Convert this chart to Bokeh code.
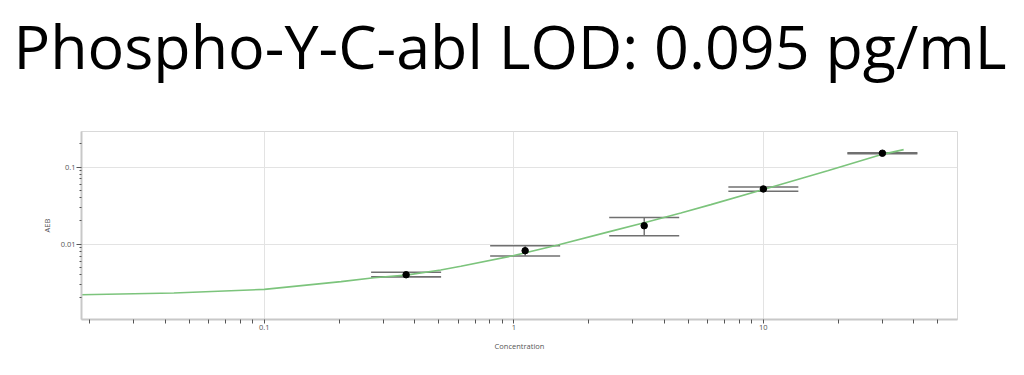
from bokeh.plotting import figure
from bokeh.models import (ColumnDataSource, Whisker, TeeHead, FixedTicker,
                          CustomJSTickFormatter)
from bokeh.embed import file_html
from bokeh.resources import INLINE

# ---- data ----
conc = [0.37, 1.11, 3.33, 10, 30]
aeb = [0.0040, 0.0082, 0.0173, 0.0519, 0.151]
aeb_hi = [0.0043, 0.0095, 0.0221, 0.0550, 0.153]
aeb_lo = [0.00375, 0.0070, 0.0128, 0.0485, 0.149]

fit_x = [0.0184, 0.0434, 0.1, 0.203, 0.275, 0.37, 0.509, 0.613, 1.0, 1.5,
         2.375, 3.33, 4.67, 6.16, 10, 18.1, 30, 36.5]
fit_y = [0.00220, 0.00232, 0.00258, 0.00326, 0.00366, 0.00395, 0.00462,
         0.00515, 0.0071, 0.00973, 0.0143, 0.0189, 0.0253, 0.0325, 0.0511,
         0.0897, 0.146, 0.168]

x_major = [0.1, 1, 10]
x_minor = [0.02, 0.03, 0.04, 0.05, 0.06, 0.07, 0.08, 0.09,
           0.2, 0.3, 0.4, 0.5, 0.6, 0.7, 0.8, 0.9,
           2, 3, 4, 5, 6, 7, 8, 9, 20, 30, 40, 50]
y_major = [0.01, 0.1]
y_minor = [0.002, 0.003, 0.004, 0.005, 0.006, 0.007, 0.008, 0.009,
           0.02, 0.03, 0.04, 0.05, 0.06, 0.07, 0.08, 0.09, 0.2]

title_text = "Phospho-Y-C-abl LOD: 0.095 pg/mL"

p = figure(width=1008, height=397, x_axis_type="log", y_axis_type="log",
           x_range=(0.0185, 60), y_range=(0.00105, 0.289),
           output_backend="svg", toolbar_location=None,
           min_border_left=81, min_border_right=51, min_border_bottom=31,
           min_border_top=0)
p.styles = {"margin-top": "-44px"}

p.title.text = title_text
p.title.text_font = "Open Sans"
p.title.text_font_size = "61px"
p.title.text_font_style = "normal"
p.title.align = "left"
p.title.offset = -68
p.title.text_color = "#000000"
p.title.standoff = 90

p.outline_line_color = "#d9d9d9"
p.outline_line_width = 1

for ax in (p.xaxis[0], p.yaxis[0]):
    ax.axis_line_color = "#c8c8c8"
    ax.axis_line_width = 2
    ax.major_tick_line_color = "#555555"
    ax.minor_tick_line_color = "#555555"
    ax.major_label_text_font = "Open Sans"
    ax.major_label_text_font_size = "7.5px"
    ax.major_label_text_color = "#555555"
    ax.axis_label_text_font = "Open Sans"
    ax.axis_label_text_font_size = "7.5px"
    ax.axis_label_text_font_style = "normal"
    ax.axis_label_text_color = "#555555"
    ax.formatter = CustomJSTickFormatter(code="return tick.toString();")

p.xaxis.ticker = FixedTicker(ticks=x_major, minor_ticks=x_minor)
p.yaxis.ticker = FixedTicker(ticks=y_major, minor_ticks=y_minor)
p.xaxis.axis_label = "Concentration"
p.yaxis.axis_label = "AEB"
p.xaxis.major_tick_in = 0
p.xaxis.major_tick_out = 4
p.xaxis.minor_tick_in = 0
p.xaxis.minor_tick_out = 4
p.yaxis.major_tick_in = 0
p.yaxis.major_tick_out = 5
p.yaxis.minor_tick_in = 0
p.yaxis.minor_tick_out = 2
p.xaxis.major_label_standoff = 1
p.yaxis.major_label_standoff = 1
p.xaxis.axis_label_standoff = 8
p.yaxis.axis_label_standoff = 6

p.xgrid.ticker = FixedTicker(ticks=x_major)
p.ygrid.ticker = FixedTicker(ticks=y_major)
p.grid.grid_line_color = "#e3e3e3"
p.grid.grid_line_width = 1

p.line(fit_x, fit_y, line_color="#7cc47c", line_width=1.6)

src = ColumnDataSource(dict(x=conc, y=aeb, hi=aeb_hi, lo=aeb_lo))
w = Whisker(source=src, base="x", upper="hi", lower="lo",
            line_color="#555555", line_width=1.2,
            upper_head=TeeHead(size=70, line_color="#707070", line_width=1.6),
            lower_head=TeeHead(size=70, line_color="#707070", line_width=1.6))
p.add_layout(w)
p.scatter("x", "y", source=src, size=6.5, color="#000000")

open("out.html", "w").write(file_html(p, INLINE))
